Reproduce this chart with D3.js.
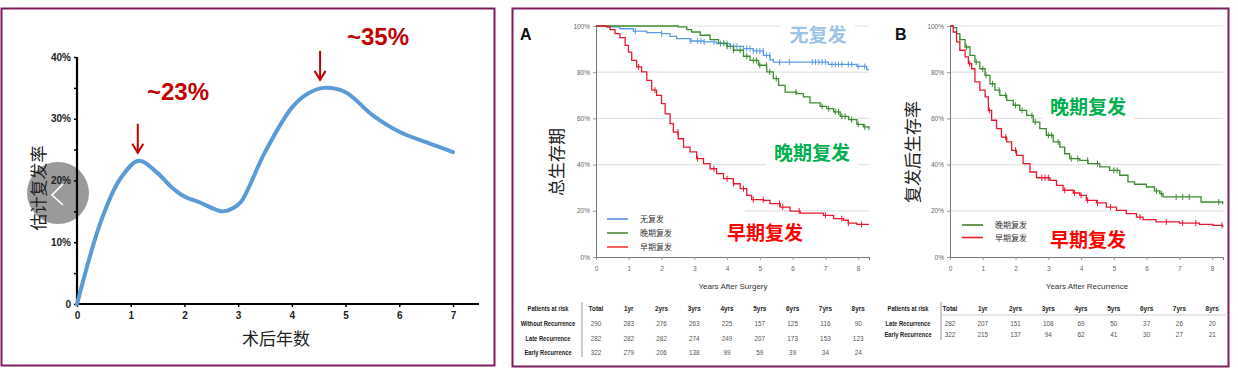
<!DOCTYPE html>
<html>
<head>
<meta charset="utf-8">
<script src="https://cdn.jsdelivr.net/npm/d3@7"></script>
<style>
  body { margin: 0; background: #fff; }
  svg { display: block; font-family: "Liberation Sans", Arial, sans-serif; }
  .cjk { font-family: "Noto Sans CJK SC", sans-serif; }
</style>
</head>
<body>
<svg id="chart" width="1238" height="383"></svg>
<script>
// ---------- left panel: estimated recurrence rate ----------
const recYears = [0, 0.45, 0.8, 1.15, 1.5, 1.75, 2.0, 2.3, 2.55, 2.72, 2.9, 3.05, 3.5, 4.0, 4.3, 4.6, 5.0, 5.5, 6.0, 6.5, 7.0];
const recRate  = [0, 13.5, 20.2, 23.2, 21.2, 19.0, 17.4, 16.4, 15.4, 15.0, 15.5, 16.5, 24.6, 31.8, 34.1, 35.0, 34.3, 30.6, 27.9, 26.2, 24.6];
const recYTicks = [0, 5, 10, 15, 20, 25, 30, 35, 40];
const recXTicks = [0, 1, 2, 3, 4, 5, 6, 7];
const peaks = [{t: 1.15, v: 23.2, label: '~23%'}, {t: 4.6, v: 35.0, label: '~35%'}];

// ---------- panel A: overall survival (years after surgery) ----------
const aNoneT = [0, 0.33, 0.73, 1.14, 1.55, 2.0, 2.26, 2.46, 2.87, 3.28, 3.68, 4.09, 4.5, 4.8, 5.11, 5.31, 5.41, 7.09, 7.96, 8.26, 8.33];
const aNoneS = [100, 99.6, 98.8, 97.8, 97.1, 96.7, 95.5, 94.5, 93.5, 93.1, 92.4, 91.2, 90.2, 89.2, 87.3, 85.4, 84.4, 83.4, 82.5, 81.1, 81.1];
const aLateT = [0, 2.31, 2.51, 2.77, 2.92, 3.18, 3.48, 3.74, 3.99, 4.19, 4.5, 4.7, 4.96, 5.21, 5.41, 5.57, 5.77, 6.13, 6.33, 6.53, 6.84, 7.04, 7.25, 7.45, 7.71, 7.96, 8.16, 8.33];
const aLateS = [100, 100, 99.6, 98.4, 97.4, 96.0, 94.1, 92.6, 91.2, 89.5, 86.9, 85.1, 83.0, 80.1, 77.2, 74.3, 71.4, 70.7, 69.3, 66.7, 65.2, 64.2, 62.8, 60.9, 59.5, 57.4, 56.3, 55.1];
const aEarlyT = [0, 0.27, 0.33, 0.43, 0.58, 0.73, 0.89, 0.99, 1.09, 1.24, 1.39, 1.55, 1.7, 1.85, 2.0, 2.11, 2.26, 2.36, 2.51, 2.67, 2.87, 3.07, 3.28, 3.48, 3.68, 3.89, 4.19, 4.4, 4.6, 4.75, 5.11, 5.31, 5.62, 5.92, 6.23, 6.94, 7.25, 7.55, 7.7, 7.96, 8.33];
const aEarlyS = [100, 100, 99.6, 98.4, 96.7, 95.0, 91.6, 88.7, 85.1, 82.3, 80.1, 76.5, 72.2, 70.0, 66.4, 62.0, 57.7, 54.1, 51.2, 47.6, 45.5, 42.6, 40.4, 38.2, 36.1, 33.9, 31.7, 29.6, 26.7, 24.8, 24.5, 23.1, 21.6, 19.9, 19.0, 18.0, 16.6, 15.9, 14.7, 14.1, 14.1];
const aNoneCens = [1.2, 2.0, 2.9, 3.1, 3.2, 3.3, 3.6, 3.8, 4.0, 4.1, 4.2, 4.3, 4.5, 4.6, 4.7, 4.8, 4.9, 5.0, 5.1, 5.2, 5.3, 5.6, 5.9, 6.6, 6.7, 6.8, 6.9, 7.0, 7.2, 7.3, 7.4, 7.5, 7.7, 7.8, 8.0, 8.2];
const aLateCens = [3.9, 4.0, 4.2, 4.4, 4.6, 4.8, 4.9, 5.0, 5.2, 5.3, 5.5, 6.1, 6.9, 7.1, 7.3, 7.4, 7.5, 7.6, 7.8, 8.0, 8.2];
const aEarlyCens = [1.3, 1.8, 2.5, 3.1, 3.6, 4.0, 4.2, 4.5, 4.8, 5.1, 5.6, 5.7, 6.2, 7.0, 7.5, 7.7, 8.1];

// ---------- panel B: survival after recurrence ----------
const bLateT = [0, 0.1, 0.2, 0.3, 0.46, 0.61, 0.76, 0.91, 1.07, 1.22, 1.37, 1.52, 1.73, 1.93, 2.13, 2.34, 2.54, 2.74, 2.94, 3.15, 3.35, 3.5, 3.65, 3.96, 4.21, 4.57, 4.87, 5.18, 5.43, 5.63, 5.99, 6.24, 6.4, 6.5, 7.66, 8.32];
const bLateS = [100, 99.3, 96.7, 94.1, 90.9, 87.3, 84.4, 81.5, 78.6, 75.0, 72.2, 70.0, 67.8, 65.7, 63.5, 61.3, 58.4, 55.6, 52.7, 49.8, 47.6, 44.7, 42.6, 41.8, 40.4, 39.0, 37.5, 35.4, 32.5, 31.5, 30.3, 28.6, 27.4, 26.0, 23.8, 22.8];
const bEarlyT = [0, 0.1, 0.2, 0.3, 0.46, 0.56, 0.66, 0.76, 0.91, 1.07, 1.17, 1.27, 1.42, 1.57, 1.73, 1.88, 2.03, 2.23, 2.44, 2.64, 3.05, 3.25, 3.45, 3.76, 3.96, 4.16, 4.47, 4.77, 5.08, 5.38, 5.69, 5.89, 6.29, 7.0, 7.61, 8.02, 8.32];
const bEarlyS = [100, 97.4, 93.1, 89.5, 86.6, 83.7, 81.5, 75.8, 72.2, 69.3, 63.5, 59.2, 55.6, 51.9, 49.8, 46.2, 44.0, 40.4, 36.8, 34.3, 33.2, 31.0, 28.9, 27.7, 26.7, 24.5, 23.4, 21.6, 20.2, 18.8, 17.3, 16.2, 15.2, 14.7, 14.1, 13.7, 13.0];
const bLateCens = [0.3, 0.5, 0.8, 1.0, 1.1, 1.3, 1.5, 1.7, 2.0, 2.2, 2.5, 2.6, 3.0, 3.1, 3.3, 3.7, 3.9, 4.2, 4.5, 5.0, 5.1, 6.3, 6.45, 6.9, 7.1, 7.3, 8.2];
const bEarlyCens = [0.6, 1.2, 1.7, 2.0, 2.8, 2.9, 3.0, 3.5, 3.8, 4.0, 4.2, 4.5, 4.9, 5.8, 6.6, 7.1, 7.5, 8.3];

// ---------- risk tables ----------
const tableCols = ['Total', '1yr', '2yrs', '3yrs', '4yrs', '5yrs', '6yrs', '7yrs', '8yrs'];
const aRowNames = ['Without Recurrence', 'Late Recurrence', 'Early Recurrence'];
const aRisk = [
  [290, 283, 276, 263, 225, 157, 125, 116, 90],
  [282, 282, 282, 274, 249, 207, 173, 153, 123],
  [322, 279, 206, 138, 99, 59, 39, 34, 24]
];
const bRowNames = ['Late Recurrence', 'Early Recurrence'];
const bRisk = [
  [282, 207, 151, 108, 69, 50, 37, 26, 20],
  [322, 215, 137, 94, 62, 41, 30, 27, 21]
];
const kmTicksY = [0, 20, 40, 60, 80, 100];
const kmTicksX = [0, 1, 2, 3, 4, 5, 6, 7, 8];

const COL = {
  frame: '#7d1d5c', curve: '#5b9bd5', arrow: '#c00000',
  none: '#5c9ae6', late: '#3d8a32', early: '#e8192f',
  noneLbl: '#9dc3e6', lateLbl: '#00b050', earlyLbl: '#ff0000'
};

const svg = d3.select('#chart');
const zip = (t, s) => t.map((d, i) => [d, s[i]]);

// squeeze text horizontally (the table uses a narrow face)
function squeeze(sel, k) {
  sel.each(function() {
    const w = this.getComputedTextLength();
    d3.select(this).attr('textLength', w * k).attr('lengthAdjust', 'spacingAndGlyphs');
  });
}

// frames
svg.append('rect').attr('x', 1.5).attr('y', 8.5).attr('width', 493).attr('height', 357)
  .attr('fill', 'none').attr('stroke', COL.frame).attr('stroke-width', 2);
svg.append('rect').attr('x', 512.5).attr('y', 8.5).attr('width', 716).attr('height', 358)
  .attr('fill', 'none').attr('stroke', COL.frame).attr('stroke-width', 2);

// ===== left panel =====
const lx = d3.scaleLinear().domain([0, 7]).range([77, 453]);
const ly = d3.scaleLinear().domain([0, 40]).range([304, 57]);
const L = svg.append('g');

// carousel button behind the chart
L.append('circle').attr('cx', 58).attr('cy', 193).attr('r', 31).attr('fill', '#9a9a9a');
L.append('path').attr('d', 'M63,184L52,195L63,205').attr('fill', 'none')
  .attr('stroke', '#fff').attr('stroke-width', 1.6);

const lyAxis = L.append('g').attr('transform', 'translate(77,0)')
  .call(d3.axisLeft(ly).tickValues(recYTicks).tickSize(3)
    .tickFormat(d => d === 0 ? '0' : (d % 10 === 0 ? d + '%' : '')));
const lxAxis = L.append('g').attr('transform', 'translate(0,304)')
  .call(d3.axisBottom(lx).tickValues(recXTicks).tickSize(3).tickFormat(d3.format('d')));
[lyAxis, lxAxis].forEach(g => {
  g.select('.domain').remove();
  g.selectAll('line').attr('stroke', '#000').attr('stroke-width', 1.5);
  g.selectAll('text').attr('font-size', 10).attr('font-weight', 'bold').attr('fill', '#222');
});
lxAxis.selectAll('text').attr('dy', '0.9em');
L.append('line').attr('x1', 77).attr('x2', 77).attr('y1', 57).attr('y2', 305)
  .attr('stroke', '#000').attr('stroke-width', 2.2);
L.append('line').attr('x1', 76).attr('x2', 479).attr('y1', 304).attr('y2', 304)
  .attr('stroke', '#000').attr('stroke-width', 2.2);

L.append('path').datum(zip(recYears, recRate))
  .attr('d', d3.line().x(d => lx(d[0])).y(d => ly(d[1])).curve(d3.curveCatmullRom.alpha(0.5)))
  .attr('fill', 'none').attr('stroke', COL.curve).attr('stroke-width', 4)
  .attr('stroke-linecap', 'round');

peaks.forEach((p, i) => {
  const x = lx(p.t) - (i === 0 ? 1 : 4);
  const yEnd = ly(p.v) - 8;
  L.append('line').attr('x1', x).attr('x2', x).attr('y1', yEnd - 29).attr('y2', yEnd)
    .attr('stroke', COL.arrow).attr('stroke-width', 2);
  L.append('path').attr('d', `M${x - 5.5},${yEnd - 9}L${x},${yEnd}L${x + 5.5},${yEnd - 9}`)
    .attr('fill', 'none').attr('stroke', COL.arrow).attr('stroke-width', 2);
  L.append('text').attr('x', i === 0 ? 178 : 378).attr('y', i === 0 ? 100 : 45)
    .attr('text-anchor', 'middle').attr('font-size', 24).attr('font-weight', 'bold')
    .attr('fill', COL.arrow).text(p.label);
});

L.append('text').attr('class', 'cjk').attr('x', 276).attr('y', 345)
  .attr('text-anchor', 'middle').attr('font-size', 17).attr('fill', '#222').text('术后年数');
L.append('text').attr('class', 'cjk')
  .attr('transform', 'translate(45,188) rotate(-90)')
  .attr('text-anchor', 'middle').attr('font-size', 17).attr('fill', '#222').text('估计复发率');

// ===== KM panels =====
function stepAt(t, s, time) {
  const i = d3.bisectRight(t, time) - 1;
  return s[Math.max(0, i)];
}

function kmPanel(opt) {
  const g = svg.append('g');
  const x = d3.scaleLinear().domain([0, 8.33]).range([opt.x0, opt.x0 + 273]);
  const y = d3.scaleLinear().domain([0, 100]).range([257, 26]);

  g.selectAll('.grid').data(kmTicksY.filter(d => d > 0)).join('line')
    .attr('x1', x(0)).attr('x2', x(8.33)).attr('y1', d => y(d)).attr('y2', d => y(d))
    .attr('stroke', '#e2e2e2').attr('stroke-width', 1.2);

  const yAx = g.append('g').attr('transform', `translate(${x(0)},0)`)
    .call(d3.axisLeft(y).tickValues(kmTicksY).tickSize(3).tickFormat(d => d + '%'));
  const xAx = g.append('g').attr('transform', 'translate(0,257)')
    .call(d3.axisBottom(x).tickValues(kmTicksX).tickSize(3).tickFormat(d3.format('d')));
  [yAx, xAx].forEach(a => {
    a.selectAll('.domain').attr('stroke', '#777');
    a.selectAll('line').attr('stroke', '#999');
    a.selectAll('text').attr('font-size', 6.5).attr('fill', '#666');
  });
  xAx.selectAll('text').attr('dy', '1.3em');

  const line = d3.line().x(d => x(d[0])).y(d => y(d[1])).curve(d3.curveStepAfter);
  opt.series.forEach(s => {
    g.append('path').datum(zip(s.t, s.s)).attr('d', line)
      .attr('fill', 'none').attr('stroke', s.color).attr('stroke-width', 1.3);
    g.selectAll(null).data(s.cens).join('line')
      .attr('x1', d => x(d)).attr('x2', d => x(d))
      .attr('y1', d => y(stepAt(s.t, s.s, d)) - 3).attr('y2', d => y(stepAt(s.t, s.s, d)) + 3)
      .attr('stroke', s.color).attr('stroke-width', 1);
  });

  // legend
  if (opt.legendBg) {
    g.append('rect').attr('x', x(0) + 1).attr('y', 203).attr('width', 745 - x(0) - 1)
      .attr('height', 52).attr('fill', '#fff');
  }
  opt.series.forEach((s, i) => {
    const ly0 = opt.legendY + i * opt.legendGap;
    g.append('line').attr('x1', opt.legendX).attr('x2', opt.legendX + 21)
      .attr('y1', ly0).attr('y2', ly0).attr('stroke', s.legendColor).attr('stroke-width', 1.6);
    g.append('text').attr('class', 'cjk').attr('x', opt.legendX + 33).attr('y', ly0 + 3)
      .attr('font-size', 8).attr('fill', '#333').text(s.name);
  });

  // big labels with white backing
  opt.labels.forEach(l => {
    const t = g.append('text').attr('class', 'cjk').attr('x', l.x).attr('y', l.y)
      .attr('text-anchor', 'middle').attr('font-size', 19).attr('font-weight', 'bold')
      .attr('fill', l.color).text(l.text);
    const b = t.node().getBBox();
    g.insert('rect', () => t.node()).attr('x', b.x - 8).attr('y', b.y - 1)
      .attr('width', b.width + 16).attr('height', b.height + 3).attr('fill', '#fff');
  });

  g.append('text').attr('x', x(0) + 137).attr('y', 289).attr('text-anchor', 'middle')
    .attr('font-size', 8).attr('fill', '#333').text(opt.xTitle);
  g.append('text').attr('class', 'cjk')
    .attr('transform', `translate(${opt.yTitleX},${opt.yTitleY}) rotate(-90)`)
    .attr('text-anchor', 'middle').attr('font-size', 17).attr('fill', '#222').text(opt.yTitle);
  g.append('text').attr('x', opt.letterX).attr('y', 40).attr('font-size', 16)
    .attr('font-weight', 'bold').attr('fill', '#111').text(opt.letter);

  // risk table
  const T = g.append('g');
  const lbl = [T.append('text').attr('x', opt.tableLabelX).attr('y', 311).attr('text-anchor', 'middle')
    .attr('font-size', 7).attr('font-weight', 'bold').attr('fill', '#222').text('Patients at risk')];
  const hdr = T.selectAll('.hdr').data(tableCols).join('text')
    .attr('x', (d, i) => x(i)).attr('y', 311).attr('text-anchor', 'middle')
    .attr('font-size', 7.5).attr('font-weight', 'bold').attr('fill', '#222').text(d => d);
  squeeze(hdr, 0.85);
  opt.rows.forEach((r, ri) => {
    const ry = 326 + ri * opt.rowGap;
    lbl.push(T.append('text').attr('x', opt.tableLabelX).attr('y', ry).attr('text-anchor', 'middle')
      .attr('font-size', 7).attr('font-weight', 'bold').attr('fill', '#222').text(r));
    const nums = T.selectAll(null).data(opt.risk[ri]).join('text')
      .attr('x', (d, i) => x(i)).attr('y', ry).attr('text-anchor', 'middle')
      .attr('font-size', 7.5).attr('fill', '#555').text(d => d);
    squeeze(nums, 0.85);
  });
  lbl.forEach(s => squeeze(s, 0.82));
  T.append('line').attr('x1', opt.sepX).attr('x2', opt.sepX).attr('y1', 302)
    .attr('y2', opt.sepBottom).attr('stroke', '#999').attr('stroke-width', 1);
  if (opt.headerRule) {
    T.append('line').attr('x1', opt.sepX).attr('x2', 1226).attr('y1', 315).attr('y2', 315)
      .attr('stroke', '#d0d0d0').attr('stroke-width', 1);
  }
}

kmPanel({
  x0: 596, letter: 'A', letterX: 520, xTitle: 'Years After Surgery',
  yTitle: '总生存期', yTitleX: 563, yTitleY: 162,
  legendX: 607, legendY: 219, legendGap: 14, legendBg: true,
  series: [
    {name: '无复发', t: aNoneT, s: aNoneS, cens: aNoneCens, color: COL.none, legendColor: '#5b8fdb'},
    {name: '晚期复发', t: aLateT, s: aLateS, cens: aLateCens, color: COL.late, legendColor: '#4e8a3c'},
    {name: '早期复发', t: aEarlyT, s: aEarlyS, cens: aEarlyCens, color: COL.early, legendColor: '#f03a3a'}
  ],
  labels: [
    {text: '无复发', x: 818, y: 42, color: COL.noneLbl},
    {text: '晚期复发', x: 812, y: 160, color: COL.lateLbl},
    {text: '早期复发', x: 765, y: 240, color: COL.earlyLbl}
  ],
  tableLabelX: 548, sepX: 582, sepBottom: 357, rows: aRowNames, risk: aRisk, rowGap: 14.5
});

kmPanel({
  x0: 950, letter: 'B', letterX: 895, xTitle: 'Years After Recurrence',
  yTitle: '复发后生存率', yTitleX: 919, yTitleY: 152,
  legendX: 962, legendY: 225, legendGap: 12.5, legendBg: false,
  series: [
    {name: '晚期复发', t: bLateT, s: bLateS, cens: bLateCens, color: COL.late, legendColor: '#3d7f22'},
    {name: '早期复发', t: bEarlyT, s: bEarlyS, cens: bEarlyCens, color: COL.early, legendColor: '#f02020'}
  ],
  labels: [
    {text: '晚期复发', x: 1088, y: 114, color: COL.lateLbl},
    {text: '早期复发', x: 1088, y: 247, color: COL.earlyLbl}
  ],
  tableLabelX: 908, sepX: 941, sepBottom: 340, rows: bRowNames, risk: bRisk, rowGap: 11, headerRule: true
});
</script>
</body>
</html>
